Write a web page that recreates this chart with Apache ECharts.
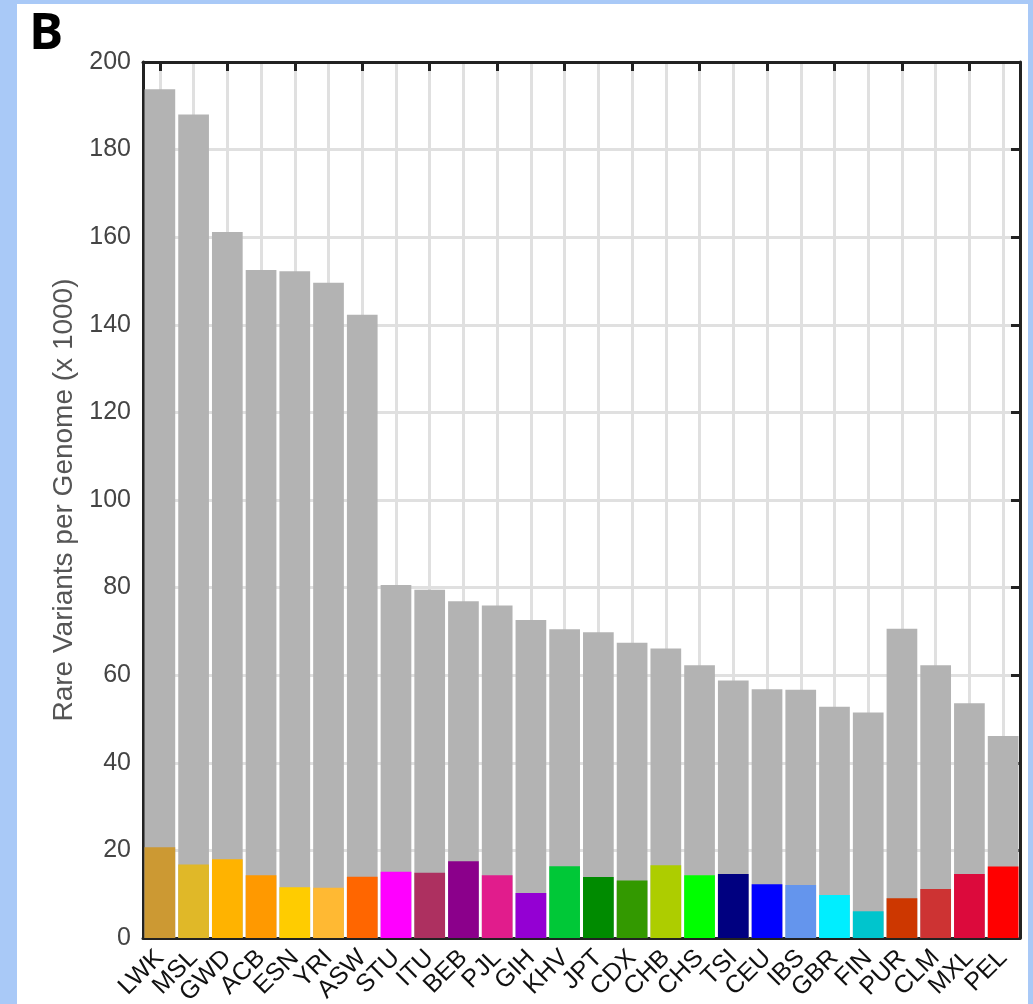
<!DOCTYPE html>
<html>
<head>
<meta charset="utf-8">
<script src="https://cdn.jsdelivr.net/npm/echarts@6/dist/echarts.min.js"></script>
<style>
html,body{margin:0;padding:0;background:#a9c9f7;}
#frame{position:absolute;left:17px;top:4px;width:1011px;height:1000px;background:#fff;}
#chart{position:absolute;left:0;top:0;width:1033px;height:1004px;}
</style>
</head>
<body>
<div id="frame"></div>
<div id="chart"></div>
<script>
const populations = ['LWK','MSL','GWD','ACB','ESN','YRI','ASW','STU','ITU','BEB','PJL','GIH','KHV','JPT','CDX','CHB','CHS','TSI','CEU','IBS','GBR','FIN','PUR','CLM','MXL','PEL'];
const totalRare = [193.8,188.0,161.2,152.5,152.2,149.6,142.3,80.6,79.5,76.9,75.9,72.6,70.5,69.8,67.4,66.1,62.3,58.8,56.8,56.7,52.8,51.5,70.6,62.3,53.6,46.1];
const populationSpecific = [20.7,16.8,18.0,14.3,11.6,11.5,14.0,15.1,14.9,17.5,14.3,10.3,16.4,13.9,13.1,16.6,14.3,14.6,12.3,12.1,9.8,6.1,9.1,11.2,14.6,16.3];
const popColors = ['#cc9933','#e0b828','#ffb300','#ff9900','#ffcc00','#ffb933','#ff6600','#ff00ff','#ad3060','#8b008b','#e11c8c','#9400d3','#00c837','#008b00','#339900','#adcd00','#00ff00','#000080','#0000ff','#6495ed','#00eeff','#00c5cd','#cd3700','#cd3333','#dc0a3c','#ff0000'];
const yTicks = [0,20,40,60,80,100,120,140,160,180,200];

const chart = echarts.init(document.getElementById('chart'), null, {renderer:'canvas'});
const font = 'Liberation Sans, Arial, sans-serif';
const option = {
  backgroundColor: 'transparent',
  animation: false,
  graphic: [{
    type: 'text', left: 29, top: 9,
    style: {text: 'B', font: 'bold 51px "Open Sans", "DejaVu Sans", sans-serif', fill: '#000'}
  }],
  grid: {left: 143, top: 62, right: 13, bottom: 66, containLabel: false, outerBoundsMode: 'none'},
  xAxis: [{
    type: 'category', data: populations, position: 'bottom',
    axisLine: {lineStyle: {color: '#222', width: 3}},
    axisTick: {show: false},
    axisLabel: {rotate: 45, margin: 16, fontSize: 25, color: '#111', fontFamily: font, interval: 0},
    splitLine: {show: true, alignWithLabel: true, lineStyle: {color: '#e0e0e0', width: 3}}
  }, {
    type: 'category', data: populations, position: 'top',
    axisLine: {onZero: false, lineStyle: {color: '#222', width: 3}},
    axisTick: {show: true, inside: true, alignWithLabel: true, length: 9, lineStyle: {color: '#222', width: 3}},
    axisLabel: {show: false},
    splitLine: {show: false}
  }],
  yAxis: [{
    type: 'value', min: 0, max: 200, interval: 20, position: 'left',
    name: 'Rare Variants per Genome (x 1000)', nameLocation: 'middle', nameGap: 58, nameRotate: 90,
    nameTextStyle: {fontSize: 28, color: '#555', fontFamily: font},
    axisLine: {show: true, onZero: false, lineStyle: {color: '#222', width: 3}},
    axisTick: {show: false},
    axisLabel: {fontSize: 25, color: '#444', margin: 12, fontFamily: font,
      formatter: v => yTicks.includes(v) ? String(v) : ''},
    splitLine: {show: true, lineStyle: {color: '#e0e0e0', width: 3}}
  }, {
    type: 'value', min: 0, max: 200, interval: 20, position: 'right',
    axisLine: {show: true, onZero: false, lineStyle: {color: '#222', width: 3}},
    axisTick: {show: true, inside: true, length: 9, lineStyle: {color: '#222', width: 3}},
    axisLabel: {show: false},
    splitLine: {show: false}
  }],
  series: [{
    name: 'All rare', type: 'bar', xAxisIndex: 0, yAxisIndex: 0,
    data: totalRare, barCategoryGap: '9%', barGap: '-100%',
    itemStyle: {color: '#b3b3b3'}, z: 2
  }, {
    name: 'Population specific', type: 'bar', xAxisIndex: 0, yAxisIndex: 0,
    data: populationSpecific.map((v, i) => ({value: v, itemStyle: {color: popColors[i]}})),
    barCategoryGap: '9%', barGap: '-100%', z: 3
  }]
};
chart.setOption(option);
</script>
</body>
</html>
